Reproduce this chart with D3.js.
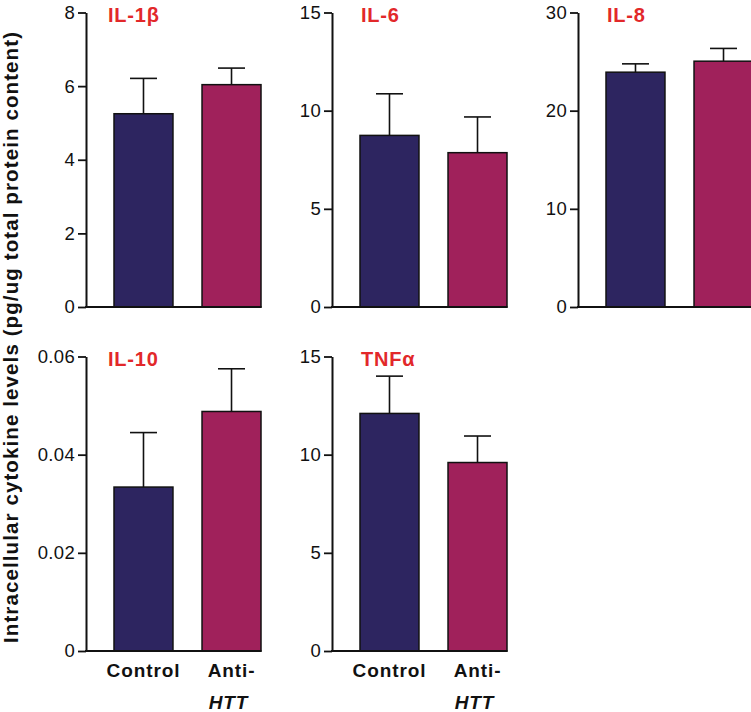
<!DOCTYPE html>
<html>
<head>
<meta charset="utf-8">
<script src="https://cdn.jsdelivr.net/npm/d3@7"></script>
<style>
  html, body { margin: 0; padding: 0; background: #fff; }
  svg { display: block; }
  text { font-family: "Liberation Sans", Arial, Helvetica, sans-serif; }
</style>
</head>
<body>
<svg id="chart" width="751" height="712"></svg>
<script>
// ---- data ----
const categories = ["Control", "Anti-HTT"];
const cytokines = ["IL-1β", "IL-6", "IL-8", "IL-10", "TNFα"];
const controlMeans = [5.25, 8.74, 23.92, 0.0334, 12.1];
const controlErr   = [0.96, 2.12, 0.85, 0.0111, 1.9];
const antiMeans    = [6.04, 7.86, 25.04, 0.0488, 9.6];
const antiErr      = [0.45, 1.82, 1.30, 0.0087, 1.35];
const yMax = [8, 15, 30, 0.06, 15];
const yTicks = [
  [0, 2, 4, 6, 8],
  [0, 5, 10, 15],
  [0, 10, 20, 30],
  [0, 0.02, 0.04, 0.06],
  [0, 5, 10, 15]
];
const yLabel = "Intracellular cytokine levels (pg/ug total protein content)";

// ---- style / layout ----
const colors = { "Control": "#2d2560", "Anti-HTT": "#a0215b" };
const titleColor = "#e2282a";
const svg = d3.select("#chart");

cytokines.forEach((name, i) => {
  const col = i % 3, row = Math.floor(i / 3);
  const axisX = 86 + col * 246;
  const yBottom = 307 + row * 344;
  const yTop = yBottom - 294.5;

  const x = d3.scaleBand().domain(categories)
    .range([axisX + 28, axisX + 175]).paddingInner(0.33).paddingOuter(0);
  const y = d3.scaleLinear().domain([0, yMax[i]]).range([yBottom, yTop]);

  const g = svg.append("g");

  const vals = [
    { cat: "Control", mean: controlMeans[i], err: controlErr[i] },
    { cat: "Anti-HTT", mean: antiMeans[i], err: antiErr[i] }
  ];
  // error bars
  vals.forEach(d => {
    const cx = x(d.cat) + x.bandwidth() / 2;
    g.append("line")
      .attr("x1", cx).attr("x2", cx)
      .attr("y1", y(d.mean)).attr("y2", y(d.mean + d.err))
      .attr("stroke", "#111").attr("stroke-width", 1.6);
    g.append("line")
      .attr("x1", cx - 13.5).attr("x2", cx + 13.5)
      .attr("y1", y(d.mean + d.err)).attr("y2", y(d.mean + d.err))
      .attr("stroke", "#111").attr("stroke-width", 1.6);
  });
  g.selectAll("rect.bar").data(vals).enter().append("rect")
    .attr("class", "bar")
    .attr("x", d => x(d.cat))
    .attr("y", d => y(d.mean))
    .attr("width", x.bandwidth())
    .attr("height", d => yBottom - y(d.mean))
    .attr("fill", d => colors[d.cat])
    .attr("stroke", "#111").attr("stroke-width", 1.5);

  // y axis
  const ax = g.append("g")
    .attr("transform", `translate(${axisX},0)`)
    .call(d3.axisLeft(y).tickValues(yTicks[i]).tickSize(8).tickSizeOuter(0)
      .tickPadding(3).tickFormat(v => String(v)));
  ax.select(".domain").attr("stroke", "#111").attr("stroke-width", 2);
  ax.selectAll(".tick line").attr("stroke", "#111").attr("stroke-width", 1.8);
  ax.selectAll(".tick text").attr("font-size", 18.5).attr("fill", "#111")
    .style("font-family", '"Liberation Sans", Arial, sans-serif')
    .attr("letter-spacing", 0.3);

  // x baseline
  g.append("line")
    .attr("x1", axisX - 1).attr("x2", x.range()[1] + 0.5)
    .attr("y1", yBottom).attr("y2", yBottom)
    .attr("stroke", "#111").attr("stroke-width", 2);

  // title
  g.append("text")
    .attr("x", axisX + [22, 29, 29][col])
    .attr("y", yTop + 9)
    .attr("font-size", 20).attr("font-weight", "bold")
    .attr("letter-spacing", 0.8)
    .attr("fill", titleColor)
    .text(name);

  // category labels on bottom row
  if (row === 1) {
    const cx0 = x("Control") + x.bandwidth() / 2;
    g.append("text").attr("x", cx0).attr("y", yBottom + 26)
      .attr("text-anchor", "middle").attr("font-size", 19).attr("font-weight", "bold")
      .attr("letter-spacing", 0.9).attr("fill", "#111")
      .text(categories[0]);
    const cx1 = x("Anti-HTT") + x.bandwidth() / 2;
    const parts = categories[1].split("-");
    const t = g.append("text").attr("text-anchor", "middle")
      .attr("font-size", 19).attr("font-weight", "bold")
      .attr("letter-spacing", 0.9).attr("fill", "#111");
    t.append("tspan").attr("x", cx1).attr("y", yBottom + 26).text(parts[0] + "-");
    t.append("tspan").attr("x", cx1 - 3).attr("y", yBottom + 58)
      .attr("font-style", "italic").text(parts[1]);
  }
});

// shared y label
svg.append("text")
  .attr("transform", "translate(18,337.5) rotate(-90)")
  .attr("text-anchor", "middle")
  .attr("font-size", 20.5).attr("font-weight", "bold").attr("fill", "#111")
  .attr("textLength", 611).attr("lengthAdjust", "spacing")
  .text(yLabel);
</script>
</body>
</html>
